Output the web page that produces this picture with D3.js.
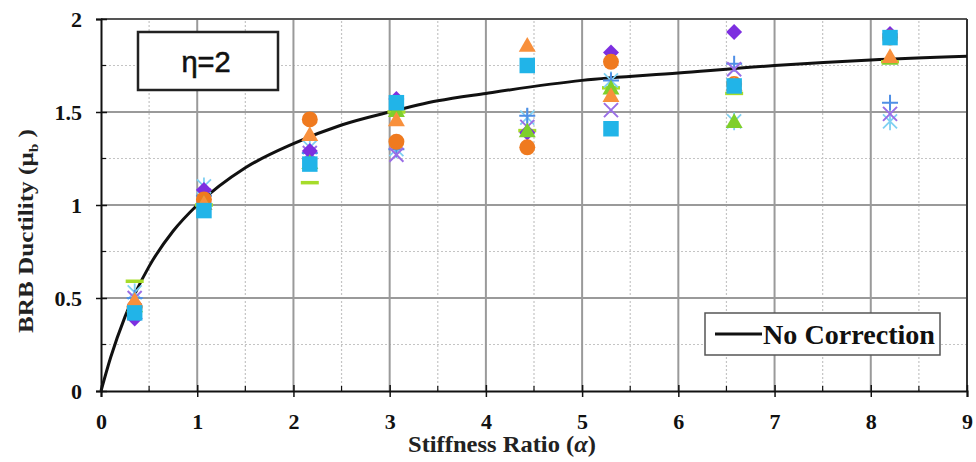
<!DOCTYPE html>
<html>
<head>
<meta charset="utf-8">
<script src="https://cdn.jsdelivr.net/npm/d3@7"></script>
<style>
  body { margin: 0; background: #fff; }
  svg { display: block; }
</style>
</head>
<body>
<script>
const width = 976;
const height = 462;
const margin = {top: 19, right: 9, bottom: 71, left: 101};

// valores
const alpha = [0.35, 1.07, 2.17, 3.07, 4.43, 5.3, 6.58, 8.2];
const diamondVals = [0.39, 1.08, 1.29, 1.57, 1.39, 1.82, 1.93, 1.92];
const circleVals = [0.45, 1.03, 1.46, 1.34, 1.31, 1.77, 1.65, 1.9];
const triOrangeVals = [0.48, 1.0, 1.37, 1.45, 1.85, 1.58, 1.64, 1.79];
const squareVals = [0.42, 0.97, 1.22, 1.55, 1.75, 1.41, 1.64, 1.9];
const triGreenVals = [0.45, 1.0, 1.22, 1.5, 1.39, 1.62, 1.44, 1.78];
const dashVals = [0.59, 1.0, 1.12, 1.5, 1.4, 1.63, 1.6, 1.77];
const starVals = [0.53, 1.1, 1.31, 1.3, 1.47, 1.67, 1.45, 1.45];
const plusVals = [0.5, 1.05, 1.28, 1.3, 1.48, 1.67, 1.76, 1.55];
const crossVals = [0.5, 1.05, 1.28, 1.27, 1.42, 1.51, 1.73, 1.49];

// curva "No Correction"
const curveX = [0, 0.1, 0.25, 0.5, 0.75, 1, 1.5, 2, 2.5, 3, 3.5, 4, 5, 6, 7, 8, 9];
const curveY = [0, 0.18, 0.4, 0.67, 0.86, 1.0, 1.2, 1.33, 1.43, 1.5, 1.56, 1.6, 1.67, 1.71, 1.75, 1.78, 1.8];

const xTicks = [0, 1, 2, 3, 4, 5, 6, 7, 8, 9];
const yTicks = [0, 0.5, 1, 1.5, 2];

// orden de dibujo = orden de la lista
const series = [
  {name: "dash", vals: dashVals, color: "#a6dc2a", shape: "dash"},
  {name: "star", vals: starVals, color: "#7fd0f2", shape: "star"},
  {name: "plus", vals: plusVals, color: "#4f8fe6", shape: "plus"},
  {name: "cross", vals: crossVals, color: "#9a6ee6", shape: "cross"},
  {name: "diamond", vals: diamondVals, color: "#7d2fe0", shape: "diamond"},
  {name: "circle", vals: circleVals, color: "#ef7a1f", shape: "circle"},
  {name: "triGreen", vals: triGreenVals, color: "#7fcf2c", shape: "triangle"},
  {name: "triOrange", vals: triOrangeVals, color: "#f8903c", shape: "triangle"},
  {name: "square", vals: squareVals, color: "#21b4e8", shape: "square"}
];

const x = d3.scaleLinear().domain([0, 9]).range([margin.left, width - margin.right]);
const y = d3.scaleLinear().domain([0, 2]).range([height - margin.bottom, margin.top]);

const svg = d3.select("body").append("svg")
  .attr("width", width)
  .attr("height", height);

const serif = "'Liberation Serif', 'Times New Roman', serif";

// rejilla menor (punteada)
svg.append("g").selectAll("line")
  .data(d3.range(0.5, 9, 1))
  .join("line")
  .attr("x1", d => x(d)).attr("x2", d => x(d))
  .attr("y1", y(0)).attr("y2", y(2))
  .attr("stroke", "#c4c4c4").attr("stroke-width", 1.2).attr("stroke-dasharray", "2,2");
svg.append("g").selectAll("line")
  .data(d3.range(0.25, 2, 0.5))
  .join("line")
  .attr("x1", x(0)).attr("x2", x(9))
  .attr("y1", d => y(d)).attr("y2", d => y(d))
  .attr("stroke", "#c4c4c4").attr("stroke-width", 1.2).attr("stroke-dasharray", "2,2");

// rejilla mayor
svg.append("g").selectAll("line")
  .data(xTicks.slice(1, -1))
  .join("line")
  .attr("x1", d => x(d)).attr("x2", d => x(d))
  .attr("y1", y(0)).attr("y2", y(2))
  .attr("stroke", "#9a9a9a").attr("stroke-width", 2);
svg.append("g").selectAll("line")
  .data(yTicks.slice(1, -1))
  .join("line")
  .attr("x1", x(0)).attr("x2", x(9))
  .attr("y1", d => y(d)).attr("y2", d => y(d))
  .attr("stroke", "#9a9a9a").attr("stroke-width", 2);

// marco
svg.append("line").attr("x1", x(0)).attr("x2", x(9)).attr("y1", y(2)).attr("y2", y(2))
  .attr("stroke", "#555").attr("stroke-width", 2);
svg.append("line").attr("x1", x(9)).attr("x2", x(9)).attr("y1", y(0)).attr("y2", y(2))
  .attr("stroke", "#333").attr("stroke-width", 2);

// ejes
const xAxis = svg.append("g")
  .attr("transform", `translate(0,${y(0)})`)
  .call(d3.axisBottom(x).tickValues(xTicks).tickSize(6).tickFormat(d3.format("d")));
xAxis.select(".domain").attr("stroke", "#111").attr("stroke-width", 2);
xAxis.selectAll(".tick line").attr("y1", -6).attr("y2", 6).attr("stroke", "#111").attr("stroke-width", 1.5);
xAxis.selectAll(".tick text")
  .attr("y", 22)
  .style("font-family", serif).style("font-size", "22px").style("font-weight", "bold").attr("fill", "#111");
svg.append("g").selectAll("line")
  .data(d3.range(0.5, 9, 1))
  .join("line")
  .attr("x1", d => x(d)).attr("x2", d => x(d))
  .attr("y1", y(0) - 5).attr("y2", y(0))
  .attr("stroke", "#111").attr("stroke-width", 1.2);

const yAxis = svg.append("g")
  .attr("transform", `translate(${x(0)},0)`)
  .call(d3.axisLeft(y).tickValues(yTicks).tickSize(5).tickFormat(d => d === 0 ? "0" : d3.format("")(d)));
yAxis.select(".domain").attr("stroke", "#111").attr("stroke-width", 2);
yAxis.selectAll(".tick line").attr("x1", -5).attr("x2", 6).attr("stroke", "#111").attr("stroke-width", 1.5);
yAxis.selectAll(".tick text")
  .attr("x", -19)
  .style("font-family", serif).style("font-size", "22px").style("font-weight", "bold").attr("fill", "#111");
svg.append("g").selectAll("line")
  .data(d3.range(0.25, 2, 0.5))
  .join("line")
  .attr("x1", x(0)).attr("x2", x(0) + 5)
  .attr("y1", d => y(d)).attr("y2", d => y(d))
  .attr("stroke", "#111").attr("stroke-width", 1.2);

// titulos de ejes
svg.append("text")
  .attr("x", 502).attr("y", 452)
  .attr("text-anchor", "middle")
  .style("font-family", serif).style("font-size", "23px").style("font-weight", "bold")
  .attr("fill", "#222")
  .attr("textLength", 188).attr("lengthAdjust", "spacingAndGlyphs")
  .html("Stiffness Ratio (<tspan font-style='italic'>α</tspan>)");

const yTitle = svg.append("text")
  .attr("transform", "translate(33,231) rotate(-90)")
  .attr("text-anchor", "middle")
  .style("font-family", serif).style("font-size", "21px").style("font-weight", "bold")
  .attr("fill", "#222")
  .attr("textLength", 204).attr("lengthAdjust", "spacingAndGlyphs");
yTitle.append("tspan").text("BRB Ductility (μ");
yTitle.append("tspan").attr("dy", 5).style("font-size", "13px").text("b");
yTitle.append("tspan").attr("dy", -5).text(" )");

// curva
const line = d3.line()
  .x(d => x(d[0]))
  .y(d => y(d[1]))
  .curve(d3.curveMonotoneX);
svg.append("path")
  .datum(curveX.map((v, i) => [v, curveY[i]]))
  .attr("d", line)
  .attr("fill", "none")
  .attr("stroke", "#111")
  .attr("stroke-width", 3);

// marcadores
const sym = {
  circle: d3.symbol().type(d3.symbolCircle).size(200),
  square: d3.symbol().type(d3.symbolSquare).size(240),
  triangle: d3.symbol().type(d3.symbolTriangle).size(125)
};

series.forEach(s => {
  const g = svg.append("g").attr("class", "series-" + s.name);
  const pts = alpha.map((a, i) => ({a, v: s.vals[i]}));
  const pos = g.selectAll("g")
    .data(pts)
    .join("g")
    .attr("transform", d => `translate(${x(d.a)},${y(d.v)})`);

  if (s.shape === "dash") {
    pos.append("line").attr("x1", -9).attr("x2", 9)
      .attr("stroke", s.color).attr("stroke-width", 3.5);
  } else if (s.shape === "plus") {
    pos.append("path").attr("d", "M-8,0H8M0,-8V8")
      .attr("stroke", s.color).attr("stroke-width", 2).attr("fill", "none");
  } else if (s.shape === "cross") {
    pos.append("path").attr("d", "M-7,-7L7,7M-7,7L7,-7")
      .attr("stroke", s.color).attr("stroke-width", 2).attr("fill", "none");
  } else if (s.shape === "star") {
    pos.append("path").attr("d", "M-7,-7L7,7M-7,7L7,-7M0,-9V9")
      .attr("stroke", s.color).attr("stroke-width", 1.8).attr("fill", "none");
  } else if (s.shape === "diamond") {
    pos.append("path").attr("d", "M0,-8L8,0L0,8L-8,0Z")
      .attr("fill", s.color);
  } else {
    pos.append("path").attr("d", sym[s.shape]())
      .attr("fill", s.color);
  }
});

// cuadro eta
svg.append("rect")
  .attr("x", 138).attr("y", 32).attr("width", 140).attr("height", 58)
  .attr("fill", "#fff").attr("stroke", "#222").attr("stroke-width", 2.5);
svg.append("text")
  .attr("x", 206).attr("y", 72)
  .attr("text-anchor", "middle")
  .style("font-family", "'Liberation Sans', Arial, sans-serif").style("font-size", "29px")
  .attr("fill", "#111")
  .attr("stroke", "#111").attr("stroke-width", 0.6)
  .text("η=2");

// leyenda
const legend = svg.append("g").attr("transform", "translate(705,313)");
legend.append("rect")
  .attr("width", 235).attr("height", 42)
  .attr("fill", "#fff").attr("stroke", "#555").attr("stroke-width", 1.5);
legend.append("line")
  .attr("x1", 10).attr("x2", 57).attr("y1", 21).attr("y2", 21)
  .attr("stroke", "#111").attr("stroke-width", 3);
legend.append("text")
  .attr("x", 58).attr("y", 31)
  .style("font-family", serif).style("font-size", "27px").style("font-weight", "bold")
  .attr("fill", "#111")
  .attr("textLength", 172).attr("lengthAdjust", "spacingAndGlyphs")
  .text("No Correction");
</script>
</body>
</html>
